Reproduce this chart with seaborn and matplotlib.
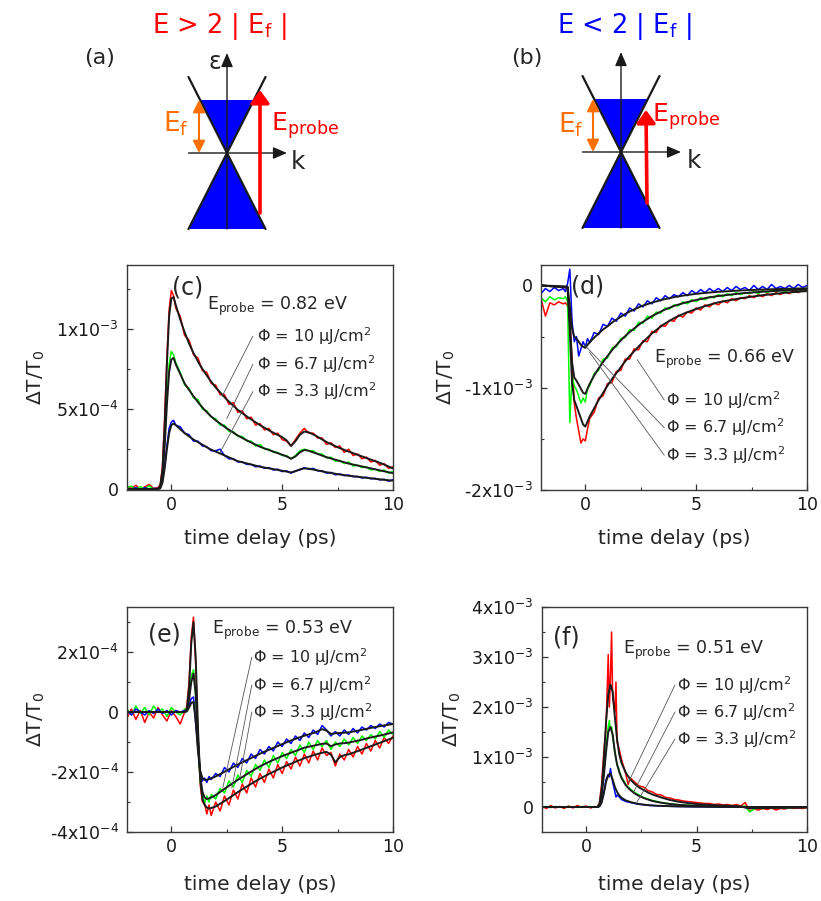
import numpy as np
import matplotlib
matplotlib.use("Agg")
import matplotlib.pyplot as plt
import seaborn as sns
from matplotlib.patches import Polygon

sns.set_theme(style="ticks")
plt.rcParams["font.family"] = ["DejaVu Sans"]
plt.rcParams["mathtext.fontset"] = "dejavusans"

RED, GREEN, BLUE, ORANGE = "#ff0000", "#00ff00", "#0000ff", "#ff7000"
fluences = ["10", "6.7", "3.3"]

# %% panel (c), E_probe = 0.82 eV, values in 1e-3
tc = [-2.0, -1.8, -1.6, -1.4, -1.2, -1.0, -0.8, -0.6, -0.5, -0.4, -0.3, -0.2, -0.1, 0.0, 0.1, 0.2,
      0.4, 0.6, 0.8, 1.0, 1.2, 1.4, 1.6, 1.8, 2.0, 2.2, 2.4, 2.6, 2.8, 3.0, 3.2, 3.4, 3.6, 3.8,
      4.0, 4.2, 4.4, 4.6, 4.8, 5.0, 5.2, 5.4, 5.6, 5.8, 6.0, 6.2, 6.4, 6.6, 6.8, 7.0, 7.2, 7.4,
      7.6, 7.8, 8.0, 8.2, 8.4, 8.6, 8.8, 9.0, 9.2, 9.4, 9.6, 9.8, 10.0]
c_red = [0.02, 0.005, 0.025, 0.0, 0.015, 0.03, 0.005,
         0.01, 0.03, 0.14, 0.45, 0.82, 1.12, 1.24, 1.21, 1.13,
         1.08, 0.96, 0.93, 0.84, 0.82, 0.74, 0.73, 0.66, 0.65, 0.59, 0.59, 0.53, 0.54, 0.48,
         0.49, 0.44, 0.45, 0.40, 0.41, 0.37, 0.38, 0.34, 0.35, 0.31, 0.30, 0.27, 0.31, 0.35,
         0.38, 0.35, 0.35, 0.32, 0.32, 0.28, 0.29, 0.26, 0.27, 0.23, 0.25, 0.21, 0.22, 0.19,
         0.20, 0.17, 0.18, 0.15, 0.16, 0.13, 0.14]
c_green = [0.01, 0.02, 0.0, 0.015, 0.005, 0.02, 0.0,
           0.0, 0.02, 0.10, 0.30, 0.57, 0.78, 0.86, 0.84, 0.79,
           0.73, 0.65, 0.63, 0.57, 0.56, 0.50, 0.49, 0.45, 0.44, 0.40, 0.40, 0.36, 0.36, 0.33,
           0.33, 0.30, 0.30, 0.27, 0.28, 0.25, 0.25, 0.23, 0.23, 0.21, 0.21, 0.19, 0.21, 0.24,
           0.25, 0.24, 0.24, 0.22, 0.22, 0.195, 0.20, 0.175, 0.18, 0.16, 0.17, 0.145, 0.15, 0.135,
           0.14, 0.12, 0.125, 0.11, 0.12, 0.10, 0.11]
c_blue = [0.005, 0.0, 0.01, -0.005, 0.01, 0.0, 0.005,
          0.005, 0.01, 0.05, 0.15, 0.27, 0.38, 0.42, 0.43, 0.40,
          0.39, 0.35, 0.34, 0.30, 0.30, 0.27, 0.265, 0.24, 0.24, 0.25, 0.21, 0.19, 0.19, 0.17,
          0.17, 0.155, 0.155, 0.14, 0.145, 0.13, 0.135, 0.12, 0.125, 0.11, 0.115, 0.10, 0.115, 0.12,
          0.135, 0.125, 0.13, 0.115, 0.115, 0.10, 0.105, 0.09, 0.095, 0.085, 0.088, 0.078, 0.08, 0.07,
          0.075, 0.065, 0.068, 0.058, 0.062, 0.05, 0.06]
tc_fit = [-2.0, -0.6, -0.5, -0.4, -0.3, -0.2, -0.1, 0.0, 0.1, 0.2, 0.4, 0.6, 0.8, 1.0, 1.25, 1.5,
          1.75, 2.0, 2.5, 3.0, 3.5, 4.0, 4.5, 5.0, 5.2, 5.4, 5.6, 5.8, 6.0, 6.2, 6.5, 7.0, 7.5,
          8.0, 8.5, 9.0, 9.5, 10.0]
c_red_fit = [0, 0, 0.02, 0.12, 0.40, 0.78, 1.08, 1.19, 1.20, 1.15, 1.06, 0.98, 0.91, 0.85, 0.785,
             0.73, 0.68, 0.635, 0.56, 0.495, 0.445, 0.40, 0.36, 0.325, 0.305, 0.27, 0.30, 0.34,
             0.36, 0.355, 0.335, 0.295, 0.262, 0.235, 0.21, 0.185, 0.16, 0.13]
c_green_fit = [0, 0, 0.015, 0.08, 0.27, 0.53, 0.73, 0.81, 0.82, 0.78, 0.72, 0.66, 0.62, 0.58, 0.535,
               0.495, 0.46, 0.43, 0.38, 0.335, 0.298, 0.265, 0.24, 0.215, 0.205, 0.19, 0.205, 0.23,
               0.245, 0.24, 0.225, 0.20, 0.18, 0.16, 0.145, 0.13, 0.115, 0.10]
c_blue_fit = [0, 0, 0.005, 0.04, 0.13, 0.25, 0.35, 0.40, 0.41, 0.40, 0.375, 0.35, 0.33, 0.31, 0.29,
              0.27, 0.25, 0.235, 0.205, 0.175, 0.158, 0.14, 0.128, 0.115, 0.11, 0.105, 0.112, 0.124,
              0.13, 0.128, 0.12, 0.106, 0.094, 0.084, 0.076, 0.068, 0.06, 0.053]

# %% panel (d), E_probe = 0.66 eV, values in 1e-3
td = [-2.0, -1.8, -1.6, -1.4, -1.2, -1.0, -0.9, -0.8, -0.7, -0.6, -0.5, -0.4, -0.3, -0.2, -0.1,
      0.0, 0.1, 0.2, 0.4, 0.6, 0.8, 1.0, 1.2, 1.4, 1.6, 1.8, 2.0, 2.2, 2.4, 2.6, 2.8, 3.0, 3.2,
      3.4, 3.6, 3.8, 4.0, 4.2, 4.4, 4.6, 4.8, 5.0, 5.2, 5.4, 5.6, 5.8, 6.0, 6.2, 6.4, 6.6, 6.8,
      7.0, 7.2, 7.4, 7.6, 7.8, 8.0, 8.2, 8.4, 8.6, 8.8, 9.0, 9.2, 9.4, 9.6, 9.8, 10.0]
d_red = [-0.13, -0.30, -0.17, -0.19, -0.16, -0.18, -0.17, -0.20, -0.28, -0.75, -1.15, -1.30,
         -1.42, -1.54, -1.50, -1.52, -1.40, -1.30,
         -1.24, -1.10, -1.08, -0.96, -0.95, -0.84, -0.83, -0.72, -0.72, -0.62, -0.63, -0.54,
         -0.55, -0.45, -0.46, -0.39, -0.40, -0.34, -0.35, -0.29, -0.31, -0.26, -0.27, -0.22,
         -0.24, -0.19, -0.21, -0.17, -0.19, -0.15, -0.17, -0.13, -0.15, -0.12, -0.13, -0.10,
         -0.12, -0.09, -0.11, -0.08, -0.10, -0.07, -0.09, -0.06, -0.08, -0.05, -0.07, -0.04, -0.06]
d_green = [-0.12, -0.16, -0.11, -0.14, -0.12, -0.13, -0.11, -0.16, -1.34, -0.88, -0.98, -1.02,
           -1.08, -1.15, -1.10, -1.14, -1.00, -0.98,
           -0.86, -0.83, -0.72, -0.71, -0.61, -0.60, -0.52, -0.51, -0.43, -0.44, -0.36, -0.37,
           -0.30, -0.32, -0.26, -0.27, -0.22, -0.23, -0.19, -0.20, -0.16, -0.18, -0.14, -0.16,
           -0.12, -0.14, -0.11, -0.12, -0.09, -0.11, -0.08, -0.10, -0.07, -0.09, -0.07, -0.08,
           -0.06, -0.08, -0.05, -0.07, -0.05, -0.06, -0.04, -0.06, -0.04, -0.05, -0.03, -0.05, -0.03]
d_blue = [-0.08, -0.03, -0.06, -0.02, -0.05, -0.03, -0.06, 0.02, 0.16, -0.35, -0.55, -0.50,
          -0.69, -0.62, -0.55, -0.60, -0.52, -0.56,
          -0.46, -0.48, -0.38, -0.40, -0.32, -0.35, -0.27, -0.30, -0.22, -0.25, -0.18, -0.21,
          -0.15, -0.18, -0.12, -0.15, -0.10, -0.13, -0.09, -0.11, -0.07, -0.10, -0.05, -0.08,
          -0.04, -0.07, -0.03, -0.06, -0.03, -0.06, -0.02, -0.05, -0.01, -0.04, -0.02, -0.05,
          0.0, -0.04, -0.01, -0.04, 0.01, -0.03, -0.01, -0.03, 0.0, -0.03, 0.01, -0.02, 0.0]
td_fit = [-2.0, -0.8, -0.7, -0.6, -0.5, -0.4, -0.3, -0.2, -0.1, 0.0, 0.1, 0.2, 0.4, 0.6, 0.8, 1.0,
          1.25, 1.5, 1.75, 2.0, 2.5, 3.0, 3.5, 4.0, 4.5, 5.0, 5.5, 6.0, 7.0, 8.0, 9.0, 10.0]
d_red_fit = [0, -0.02, -0.45, -0.95, -1.12, -1.18, -1.24, -1.30, -1.36, -1.38, -1.33, -1.28, -1.20,
             -1.12, -1.05, -0.98, -0.90, -0.83, -0.755, -0.69, -0.575, -0.47, -0.385, -0.32,
             -0.27, -0.23, -0.195, -0.165, -0.125, -0.095, -0.072, -0.055]
d_green_fit = [0, -0.02, -0.35, -0.75, -0.90, -0.93, -0.97, -1.01, -1.05, -1.06, -1.01, -0.96,
               -0.88, -0.81, -0.75, -0.69, -0.62, -0.56, -0.505, -0.455, -0.37, -0.30, -0.245,
               -0.20, -0.168, -0.142, -0.12, -0.103, -0.078, -0.061, -0.049, -0.04]
d_blue_fit = [0, -0.01, -0.20, -0.42, -0.50, -0.52, -0.55, -0.58, -0.60, -0.61, -0.58, -0.555,
              -0.51, -0.47, -0.43, -0.40, -0.355, -0.32, -0.285, -0.255, -0.205, -0.168, -0.138,
              -0.114, -0.096, -0.082, -0.071, -0.062, -0.049, -0.04, -0.033, -0.028]

# %% panel (e), E_probe = 0.53 eV, values in 1e-4
te = [-2.0, -1.8, -1.6, -1.4, -1.2, -1.0, -0.8, -0.6, -0.4, -0.2, 0.0, 0.2, 0.4, 0.6,
      0.7, 0.8, 0.9, 1.0, 1.1, 1.2, 1.3, 1.4, 1.5, 1.6, 1.7,
      1.8, 2.0, 2.2, 2.4, 2.6, 2.8, 3.0, 3.2, 3.4, 3.6, 3.8, 4.0, 4.2, 4.4, 4.6, 4.8, 5.0, 5.2,
      5.4, 5.6, 5.8, 6.0, 6.2, 6.4, 6.6, 6.8, 7.0, 7.2, 7.4, 7.6, 7.8, 8.0, 8.2, 8.4, 8.6, 8.8,
      9.0, 9.2, 9.4, 9.6, 9.8, 10.0]
e_red = [-0.2, 0.1, -0.25, 0.05, -0.35, 0.0, -0.2, 0.15, -0.1, -0.3, 0.05, -0.15, -0.4, 0.0,
         0.2, 1.0, 2.5, 3.16, 1.6, -0.7, -2.4, -3.0, -3.05, -3.4, -3.1,
         -3.45, -3.0, -3.3, -2.8, -3.1, -2.6, -2.9, -2.4, -2.7, -2.2, -2.5, -2.05, -2.35, -1.9,
         -2.2, -1.75, -2.05, -1.65, -1.9, -1.5, -1.8, -1.4, -1.7, -1.3, -1.6, -1.2, -1.45, -1.35,
         -1.8, -1.4, -1.6, -1.25, -1.5, -1.15, -1.4, -1.05, -1.3, -0.95, -1.2, -0.85, -1.05, -0.8]
e_green = [0.1, -0.1, 0.2, -0.05, 0.15, -0.1, 0.2, 0.0, 0.1, -0.15, 0.15, 0.0, -0.1, 0.1,
           0.1, 0.5, 1.2, 1.41, 0.5, -1.0, -2.3, -2.75, -3.05, -2.8, -3.0,
           -2.75, -2.9, -2.55, -2.7, -2.3, -2.5, -2.1, -2.35, -1.95, -2.15, -1.75, -1.95, -1.6,
           -1.85, -1.45, -1.7, -1.35, -1.55, -1.25, -1.45, -1.1, -1.35, -1.0, -1.25, -0.95, -1.15,
           -0.95, -1.25, -1.0, -1.15, -0.9, -1.1, -0.85, -1.05, -0.8, -0.95, -0.75, -0.9, -0.65,
           -0.85, -0.6, -0.75]
e_blue = [0.05, -0.1, 0.1, 0.0, -0.1, 0.05, -0.05, 0.1, -0.05, 0.05, -0.1, 0.05, 0.0, 0.05,
          0.05, 0.2, 0.45, 0.5, -0.4, -1.2, -2.0, -2.3, -2.2, -2.35, -2.15,
          -2.25, -2.05, -2.15, -1.85, -2.0, -1.7, -1.85, -1.55, -1.7, -1.4, -1.55, -1.25, -1.4,
          -1.15, -1.3, -1.0, -1.15, -0.9, -1.05, -0.8, -0.95, -0.7, -0.85, -0.6, -0.75, -0.45,
          -0.6, -0.8, -0.65, -0.8, -0.6, -0.75, -0.55, -0.7, -0.5, -0.6, -0.45, -0.55, -0.4, -0.5,
          -0.35, -0.4]
te_fit = [-2.0, 0.6, 0.7, 0.8, 0.9, 1.0, 1.1, 1.2, 1.3, 1.4, 1.5, 1.6, 1.7, 1.8, 2.0, 2.5, 3.0,
          3.5, 4.0, 4.5, 5.0, 5.5, 6.0, 6.5, 6.8, 7.0, 7.2, 7.4, 7.6, 7.8, 8.0, 8.5, 9.0, 9.5, 10.0]
e_red_fit = [0, 0, 0.1, 0.8, 2.3, 3.0, 1.8, -0.5, -2.2, -2.9, -3.1, -3.18, -3.22, -3.2, -3.15,
             -2.92, -2.67, -2.44, -2.22, -2.03, -1.85, -1.69, -1.54, -1.42, -1.36, -1.33, -1.42,
             -1.68, -1.50, -1.44, -1.41, -1.28, -1.14, -1.0, -0.86]
e_green_fit = [0, 0, 0.05, 0.4, 1.0, 1.28, 0.6, -0.9, -2.1, -2.65, -2.85, -2.9, -2.88, -2.85,
               -2.77, -2.51, -2.26, -2.03, -1.81, -1.63, -1.47, -1.33, -1.19, -1.11, -1.06, -1.05,
               -1.14, -1.08, -1.05, -1.04, -1.02, -0.94, -0.85, -0.77, -0.68]
e_blue_fit = [0, 0, 0.02, 0.15, 0.3, 0.34, -0.3, -1.3, -1.95, -2.2, -2.26, -2.26, -2.24, -2.21,
              -2.15, -1.95, -1.75, -1.57, -1.39, -1.23, -1.07, -0.92, -0.79, -0.68, -0.57, -0.62,
              -0.73, -0.71, -0.70, -0.69, -0.68, -0.61, -0.53, -0.46, -0.40]

# %% panel (f), E_probe = 0.51 eV, values in 1e-3
tf = [-2.0, -1.8, -1.6, -1.4, -1.2, -1.0, -0.8, -0.6, -0.4, -0.2, 0.0, 0.2, 0.4,
      0.5, 0.6, 0.7, 0.8, 0.9, 1.0, 1.05, 1.1, 1.15, 1.2, 1.3, 1.35, 1.4, 1.5, 1.6, 1.8, 1.9,
      2.0, 2.2, 2.4, 2.6, 2.8, 3.0, 3.2, 3.4, 3.6, 3.8, 4.0, 4.2, 4.4, 4.6, 4.8, 5.0, 5.2, 5.4,
      5.6, 5.8, 6.0, 6.2, 6.4, 6.6, 6.8, 7.0, 7.2, 7.4, 7.6, 7.8, 8.0, 8.2, 8.4, 8.6, 8.8, 9.0,
      9.2, 9.4, 9.6, 9.8, 10.0]
f_red = [0.02, -0.03, 0.03, -0.02, 0.01, -0.03, 0.02, -0.02, 0.03, -0.01, 0.02, -0.02, 0.01,
         0.0, 0.08, 0.45, 1.1, 1.6, 3.05, 2.0, 2.6, 3.5, 2.2, 1.9, 2.5, 1.3, 1.15, 0.95, 0.65, 0.45,
         0.58, 0.50, 0.42, 0.40, 0.33, 0.30, 0.25, 0.24, 0.19, 0.18, 0.15, 0.14, 0.12, 0.11, 0.10,
         0.09, 0.08, 0.07, 0.07, 0.05, 0.06, 0.04, 0.05, 0.03, 0.05, 0.02, 0.09, -0.08, -0.04,
         -0.06, -0.03, -0.05, -0.02, -0.06, -0.03, -0.04, -0.01, -0.03, -0.02, -0.03, -0.01]
f_green = [0.0, 0.01, -0.01, 0.01, 0.0, -0.01, 0.01, 0.0, -0.01, 0.01, 0.0, 0.01, 0.0,
           0.0, 0.04, 0.25, 0.7, 1.2, 1.6, 1.73, 1.55, 1.6, 1.4, 1.1, 0.95, 0.85, 0.72, 0.6, 0.45, 0.4,
           0.36, 0.29, 0.24, 0.19, 0.16, 0.13, 0.11, 0.09, 0.075, 0.065, 0.055, 0.045, 0.04, 0.035,
           0.03, 0.025, 0.02, 0.02, 0.015, 0.015, 0.01, 0.01, 0.01, 0.005, 0.01, 0.0, 0.02, -0.1,
           -0.04, -0.02, -0.03, -0.02, -0.01, -0.02, -0.01, -0.02, -0.01, -0.01, 0.0, -0.01, 0.0]
f_blue = [0.0, 0.005, -0.005, 0.0, 0.005, 0.0, -0.005, 0.005, 0.0, 0.0, 0.005, -0.005, 0.0,
          0.0, 0.02, 0.1, 0.3, 0.55, 0.65, 0.6, 0.77, 0.62, 0.5, 0.3, 0.2, 0.24, 0.2, 0.15, 0.11, 0.1,
          0.09, 0.07, 0.055, 0.045, 0.035, 0.03, 0.025, 0.02, 0.018, 0.015, 0.012, 0.01, 0.01, 0.008,
          0.006, 0.005, 0.005, 0.004, 0.003, 0.003, 0.002, 0.002, 0.0, 0.002, 0.0, 0.0, -0.01, -0.03,
          -0.02, -0.01, -0.02, -0.01, 0.0, -0.01, 0.0, -0.01, 0.0, 0.0, -0.01, 0.0, 0.0]
tf_fit = [-2.0, 0.5, 0.6, 0.7, 0.8, 0.9, 1.0, 1.1, 1.2, 1.3, 1.4, 1.5, 1.6, 1.8, 2.0, 2.2, 2.4,
          2.6, 2.8, 3.0, 3.4, 3.8, 4.2, 4.6, 5.0, 5.5, 6.0, 6.5, 7.0, 7.3, 8.0, 9.0, 10.0]
f_red_fit = [0, 0, 0.05, 0.35, 0.95, 1.7, 2.25, 2.45, 2.3, 1.8, 1.35, 1.05, 0.88, 0.68, 0.55, 0.46,
             0.39, 0.34, 0.29, 0.25, 0.19, 0.14, 0.105, 0.08, 0.06, 0.045, 0.033, 0.024, 0.012,
             -0.015, -0.02, -0.015, -0.01]
f_green_fit = [0, 0, 0.03, 0.22, 0.62, 1.1, 1.5, 1.6, 1.45, 1.1, 0.85, 0.7, 0.58, 0.43, 0.34, 0.27,
               0.22, 0.18, 0.15, 0.12, 0.085, 0.06, 0.043, 0.031, 0.022, 0.015, 0.01, 0.007, 0.004,
               -0.01, -0.01, -0.005, 0.0]
f_blue_fit = [0, 0, 0.01, 0.09, 0.27, 0.5, 0.64, 0.67, 0.55, 0.4, 0.3, 0.23, 0.185, 0.13, 0.1, 0.078,
              0.06, 0.048, 0.038, 0.03, 0.022, 0.016, 0.012, 0.009, 0.007, 0.005, 0.004, 0.003,
              0.002, 0.0, 0.0, 0.0, 0.0]

# %%
W, H = 821, 901
fig = plt.figure(figsize=(W / 100, H / 100), dpi=100)


def rect(l, t, r, b):
    return [l / W, 1 - b / H, (r - l) / W, (b - t) / H]


# schematic Dirac cones, drawn in pixel units
ax0 = fig.add_axes([0, 0, 1, 1], zorder=-1)
ax0.set_xlim(0, W)
ax0.set_ylim(H, 0)
ax0.axis("off")


def arrow(ax, start, end, color, lw, style, ms):
    ax.annotate("", xy=end, xytext=start,
                arrowprops=dict(arrowstyle=style, color=color, lw=lw, mutation_scale=ms,
                                shrinkA=0, shrinkB=0))


def draw_cone(ax, cx, cy, probe_from, probe_to):
    hw, hh, ef = 38.5, 76, 53
    s = hw / hh
    ax.add_patch(Polygon([(cx - hw, cy + hh), (cx + hw, cy + hh), (cx, cy)], fc=BLUE, ec="none"))
    ax.add_patch(Polygon([(cx, cy), (cx - s * ef, cy - ef), (cx + s * ef, cy - ef)], fc=BLUE, ec="none"))
    ax.plot([cx - hw, cx + hw], [cy - hh, cy + hh], color="k", lw=1.6)
    ax.plot([cx + hw, cx - hw], [cy - hh, cy + hh], color="k", lw=1.6)
    arrow(ax, (cx, cy + hh), (cx, cy - 100), "k", 1.0, "-|>,head_length=0.7,head_width=0.3", 12)
    arrow(ax, (cx - hw, cy), (cx + 60, cy), "k", 1.0, "-|>,head_length=0.7,head_width=0.3", 12)
    arrow(ax, (cx - 28, cy), (cx - 28, cy - ef), ORANGE, 1.5,
          "<|-|>,head_length=0.6,head_width=0.3", 12)
    arrow(ax, (cx + probe_from[0], cy + probe_from[1]), (cx + probe_to[0], cy + probe_to[1]),
          RED, 2.6, "-|>,head_length=0.55,head_width=0.4", 14)


draw_cone(ax0, 227, 153, (33, 60), (33, -63))
draw_cone(ax0, 621, 152, (26, 51), (25, -42))

ax0.text(219, 26, r"E > 2 | E$_\mathrm{f}$ |", color=RED, fontsize=18.5, ha="center", va="center")
ax0.text(624, 26, r"E < 2 | E$_\mathrm{f}$ |", color=BLUE, fontsize=18.5, ha="center", va="center")
ax0.text(100, 58, "(a)", fontsize=16, ha="center", va="center")
ax0.text(527, 58, "(b)", fontsize=16, ha="center", va="center")
ax0.text(215, 62, "ε", fontsize=17, ha="center", va="center")
ax0.text(298, 162, "k", fontsize=18, ha="center", va="center")
ax0.text(694, 161, "k", fontsize=18, ha="center", va="center")
ax0.text(176, 124, r"E$_\mathrm{f}$", color=ORANGE, fontsize=19, ha="center", va="center")
ax0.text(571, 125, r"E$_\mathrm{f}$", color=ORANGE, fontsize=19, ha="center", va="center")
ax0.text(271, 126, r"E$_\mathrm{probe}$", color=RED, fontsize=18, ha="left", va="center")
ax0.text(652, 117, r"E$_\mathrm{probe}$", color=RED, fontsize=18, ha="left", va="center")


# %% time traces
def draw_panel(ax, t, data, tfit, fits, scale, ylim, yticks, ylabels, yminor, ylab_x, xlab_y):
    for y, col in zip(data, [RED, GREEN, BLUE]):
        sns.lineplot(x=t, y=np.asarray(y) * scale, ax=ax, color=col, lw=1.1,
                     estimator=None, sort=False, legend=False)
    for y in fits:
        sns.lineplot(x=tfit, y=np.asarray(y) * scale, ax=ax, color="k", lw=1.4,
                     estimator=None, sort=False, legend=False)
    ax.set_xlim(-2, 10)
    ax.set_ylim(ylim)
    ax.set_xticks([0, 5, 10], ["0", "5", "10"])
    ax.set_xticks([2.5, 7.5], minor=True)
    ax.set_yticks(yticks, ylabels)
    ax.set_yticks(yminor, minor=True)
    ax.tick_params(which="both", direction="in", top=False, right=False, colors="#333333",
                   labelcolor="k", labelsize=12.5)
    ax.tick_params(which="major", length=4, width=0.9)
    ax.tick_params(which="minor", length=2.5, width=0.8)
    ax.tick_params(axis="y", pad=6)
    ax.tick_params(axis="x", pad=4)
    for sp in ax.spines.values():
        sp.set_color("#3a3a3a")
        sp.set_linewidth(1.0)
    ax.set_xlabel("time delay (ps)", fontsize=14.5)
    ax.set_ylabel(r"ΔT/T$_0$", fontsize=14.5)
    ax.xaxis.set_label_coords(0.5, xlab_y)
    ax.yaxis.set_label_coords(ylab_x, 0.5)


def annotate_panel(ax, scale, tag, tag_xy, eprobe, e_xy, phi_x, phi_y, lead_x, lead_ends):
    ax.text(tag_xy[0], tag_xy[1] * scale, tag, fontsize=17, ha="left", va="center")
    ax.text(e_xy[0], e_xy[1] * scale, r"E$_{\mathrm{probe}}$ = " + eprobe + " eV",
            fontsize=12.5, ha="left", va="center")
    for f, py, end in zip(fluences, phi_y, lead_ends):
        ax.text(phi_x, py * scale, "Φ = " + f + r" μJ/cm$^2$", fontsize=11.5, ha="left", va="center")
        ax.annotate("", xy=(end[0], end[1] * scale), xytext=(lead_x, py * scale),
                    arrowprops=dict(arrowstyle="-", color="#555555", lw=0.6, shrinkA=0, shrinkB=0))


ax_c = fig.add_axes(rect(127, 265, 393, 490))
draw_panel(ax_c, tc, [c_red, c_green, c_blue], tc_fit, [c_red_fit, c_green_fit, c_blue_fit], 1e-3,
           (-0.005e-3, 1.4e-3), [0, 5e-4, 1e-3], ["0", r"5x10$^{-4}$", r"1x10$^{-3}$"],
           [2.5e-4, 7.5e-4, 1.25e-3], -0.30, -0.175)
annotate_panel(ax_c, 1e-3, "(c)", (0.02, 1.26), "0.82", (1.6, 1.14), 3.85, [0.956, 0.78, 0.61],
               3.68, [(2.29, 0.58), (2.5, 0.44), (2.2, 0.23)])

ax_d = fig.add_axes(rect(541, 265, 807, 490))
draw_panel(ax_d, td, [d_red, d_green, d_blue], td_fit, [d_red_fit, d_green_fit, d_blue_fit], 1e-3,
           (-2.0e-3, 0.2e-3), [-2e-3, -1e-3, 0], [r"-2x10$^{-3}$", r"-1x10$^{-3}$", "0"],
           [-1.5e-3, -0.5e-3], -0.315, -0.175)
annotate_panel(ax_d, 1e-3, "(d)", (-0.65, -0.01), "0.66", (3.1, -0.725), 3.65, [-1.12, -1.39, -1.66],
               3.56, [(2.34, -0.725), (-0.05, -0.58), (0.18, -0.65)])

ax_e = fig.add_axes(rect(127, 607, 393, 832))
draw_panel(ax_e, te, [e_red, e_green, e_blue], te_fit, [e_red_fit, e_green_fit, e_blue_fit], 1e-4,
           (-4e-4, 3.5e-4), [-4e-4, -2e-4, 0, 2e-4],
           [r"-4x10$^{-4}$", r"-2x10$^{-4}$", "0", r"2x10$^{-4}$"],
           [-3e-4, -1e-4, 1e-4, 3e-4], -0.30, -0.19)
annotate_panel(ax_e, 1e-4, "(e)", (-1.07, 2.57), "0.53", (1.83, 2.73), 3.7, [1.83, 0.9, 0.0],
               3.63, [(2.32, -2.53), (2.73, -2.53), (3.09, -2.2)])

ax_f = fig.add_axes(rect(542, 607, 807, 832))
draw_panel(ax_f, tf, [f_red, f_green, f_blue], tf_fit, [f_red_fit, f_green_fit, f_blue_fit], 1e-3,
           (-0.5e-3, 4.0e-3), [0, 1e-3, 2e-3, 3e-3, 4e-3],
           ["0", r"1x10$^{-3}$", r"2x10$^{-3}$", r"3x10$^{-3}$", r"4x10$^{-3}$"],
           [0.5e-3, 1.5e-3, 2.5e-3, 3.5e-3], -0.30, -0.19)
annotate_panel(ax_f, 1e-3, "(f)", (-1.5, 3.4), "0.51", (1.65, 3.14), 4.13, [2.44, 1.9, 1.36],
               4.02, [(1.9, 0.48), (2.15, 0.3), (2.3, 0.1)])

fig.savefig("out.png", dpi=100)
